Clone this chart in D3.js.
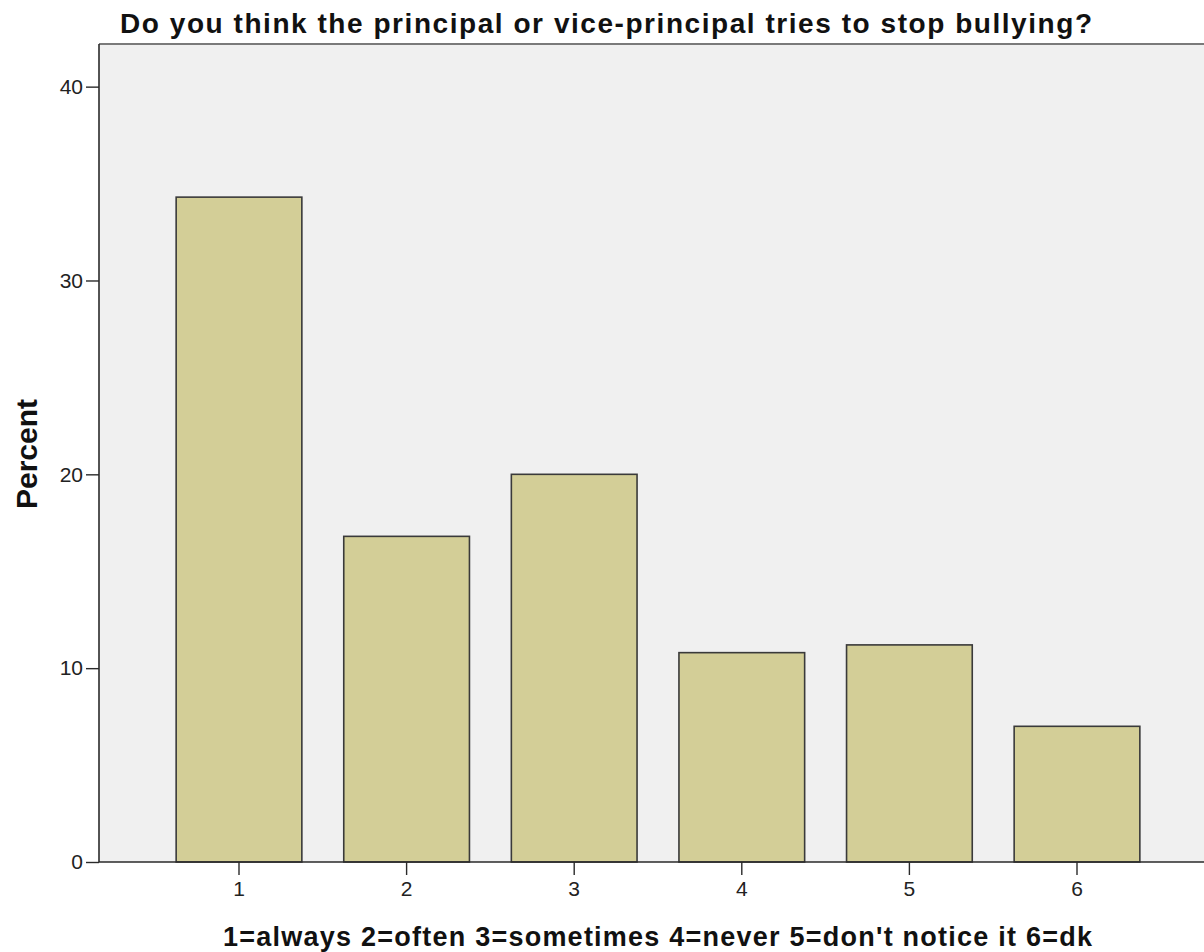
<!DOCTYPE html>
<html>
<head>
<meta charset="utf-8">
<script src="https://cdn.jsdelivr.net/npm/d3@7"></script>
<style>
  body { margin: 0; background: #fff; }
  text { font-family: "Liberation Sans", Arial, sans-serif; }
</style>
</head>
<body>
<svg id="chart" width="1204" height="952"></svg>
<script>
// answers to the survey question, coded 1..6
const categories = ['1', '2', '3', '4', '5', '6'];
const percents = [34.3, 16.8, 20.0, 10.8, 11.2, 7.0];
const yTicks = [0, 10, 20, 30, 40];

const titleText = 'Do you think the principal or vice-principal tries to stop bullying?';
const xLabel = "1=always 2=often 3=sometimes 4=never 5=don't notice it 6=dk";
const yLabel = 'Percent';

// spread letters so a label covers the same width as in the original
function fitWidth(sel, target) {
    const n = sel.text().length;
    const len = sel.node().getComputedTextLength();
    sel.style('letter-spacing', ((target - len) / (n - 1)) + 'px');
}

function drawChart() {
    const plot = { left: 99, right: 1210, top: 44, bottom: 862 };

    const svg = d3.select('#chart');

    // plot background
    svg.append('rect')
        .attr('x', plot.left)
        .attr('y', plot.top)
        .attr('width', plot.right - plot.left)
        .attr('height', plot.bottom - plot.top)
        .style('fill', '#f0f0f0');

    // top frame line
    svg.append('line')
        .attr('x1', plot.left).attr('x2', plot.right)
        .attr('y1', plot.top).attr('y2', plot.top)
        .style('stroke', '#7a7a7a')
        .style('stroke-width', 2);

    const x = d3.scaleBand()
        .domain(categories)
        .range([155.2, 1160.8])
        .paddingInner(0.25)
        .paddingOuter(0.125);

    const y = d3.scaleLinear()
        .domain([0, 42.2])
        .range([plot.bottom, plot.top]);

    // bars
    svg.selectAll('.bar')
        .data(percents)
        .enter()
        .append('rect')
        .attr('class', 'bar')
        .attr('x', (d, i) => x(categories[i]))
        .attr('y', d => y(d))
        .attr('width', x.bandwidth())
        .attr('height', d => y(0) - y(d))
        .style('fill', '#d3ce97')
        .style('stroke', '#3a3a3a')
        .style('stroke-width', 1.6);

    // y axis
    const yAxis = svg.append('g')
        .attr('transform', `translate(${plot.left},0)`)
        .call(d3.axisLeft(y).tickValues(yTicks).tickSize(13).tickPadding(3));
    yAxis.select('.domain').style('stroke', '#2a2a2a').style('stroke-width', 1.6)
        .attr('d', `M0,${plot.top}V${plot.bottom}`);
    yAxis.selectAll('.tick line').style('stroke', '#2a2a2a').style('stroke-width', 1.4);
    yAxis.selectAll('.tick text')
        .style('font-family', '"Liberation Sans", Arial, sans-serif')
        .style('font-size', '21px')
        .style('fill', '#222');

    // x axis
    const xAxis = svg.append('g')
        .attr('transform', `translate(0,${plot.bottom})`)
        .call(d3.axisBottom(x).tickSize(13).tickPadding(6));
    xAxis.select('.domain').style('stroke', '#2a2a2a').style('stroke-width', 1.6)
        .attr('d', `M${plot.left},0H${plot.right}`);
    xAxis.selectAll('.tick line').style('stroke', '#2a2a2a').style('stroke-width', 1.4);
    xAxis.selectAll('.tick text')
        .style('font-family', '"Liberation Sans", Arial, sans-serif')
        .style('font-size', '21px')
        .style('fill', '#222');

    // title
    const title = svg.append('text')
        .attr('x', 120)
        .attr('y', 33)
        .style('font-size', '28px')
        .style('font-weight', 'bold')
        .style('fill', '#111')
        .text(titleText);
    fitWidth(title, 972);

    // x axis label
    const xl = svg.append('text')
        .attr('x', 223)
        .attr('y', 946)
        .style('font-size', '27px')
        .style('font-weight', 'bold')
        .style('fill', '#111')
        .text(xLabel);
    fitWidth(xl, 869);

    // y axis label
    svg.append('text')
        .attr('transform', 'translate(37,454) rotate(-90)')
        .attr('text-anchor', 'middle')
        .style('font-size', '30px')
        .style('font-weight', 'bold')
        .style('fill', '#111')
        .text(yLabel);
}

window.addEventListener('load', drawChart);
</script>
</body>
</html>
